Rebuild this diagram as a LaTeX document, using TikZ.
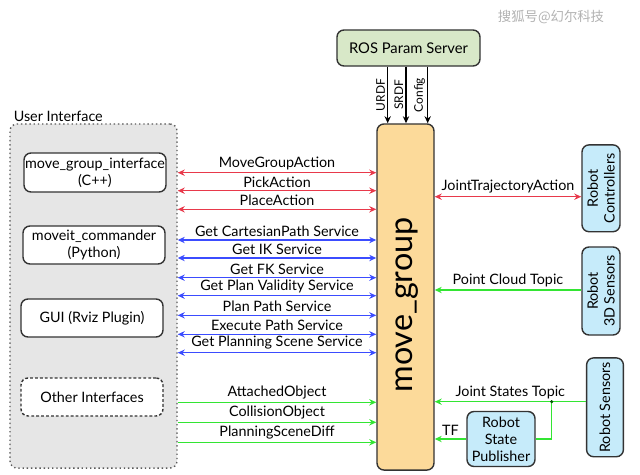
\documentclass[tikz,border=0pt]{standalone}
\usepackage{fontspec}
\setmainfont{Lato}
\newfontfamily\cjkwm{Noto Sans CJK SC}
\usepackage{tikz}
\usetikzlibrary{arrows.meta,calc,positioning}
\definecolor{actred}{HTML}{E8394B}
\definecolor{srvblue}{HTML}{3B4CFF}
\definecolor{topgreen}{HTML}{33E533}
\definecolor{uigray}{HTML}{E6E6E6}
\definecolor{mgorange}{HTML}{FCDA9A}
\definecolor{paramgreen}{HTML}{D8E8C8}
\definecolor{robotblue}{HTML}{C6EBFA}
\definecolor{edgegray}{HTML}{333333}

\begin{document}
\begin{tikzpicture}[x=0.025cm,y=-0.025cm,font=\fontsize{10.2}{12}\selectfont,
    >={Stealth[length=5pt,width=4.5pt]},
    box/.style={draw=edgegray,line width=1pt,rounded corners=5pt,align=center,inner sep=0pt},
    act/.style={actred,line width=1pt,<->},
    srv/.style={srvblue,line width=1pt,<->},
    topic/.style={topgreen,line width=1pt,->},
    cfg/.style={black,line width=0.8pt,->},
    lbl/.style={midway,above,inner sep=1.8pt,text=black}]
  \useasboundingbox (0,0) rectangle (640,475);
  % watermark
  \node[text=gray!60,font=\cjkwm\fontsize{9.5}{11}\selectfont] (wm) at (551,17) {搜狐号@幻尔科技};
  % user interface side
  \node[box,draw=gray!70!black,dotted,fill=uigray,minimum width=4.175cm,minimum height=8.6cm] (ui) at (93.5,296) {};
  \node[anchor=south west,inner sep=1pt] (uilbl) at ([xshift=2pt]ui.north west) {User Interface};
  \node[box,fill=white,minimum width=3.55cm,minimum height=0.975cm] (cpp) at (95,172.5) {move\_group\_interface\\(C++)};
  \node[box,fill=white,minimum width=3.55cm,minimum height=0.95cm] (py) at (94,245) {moveit\_commander\\(Python)};
  \node[box,fill=white,minimum width=3.55cm,minimum height=0.95cm] (gui) at (92,318) {GUI (Rviz Plugin)};
  \node[box,fill=white,dash pattern=on 2pt off 1.5pt,minimum width=3.55cm,minimum height=0.95cm] (other) at (92,397) {Other Interfaces};
  % move_group and parameter server
  \node[box,fill=mgorange,minimum width=1.425cm,minimum height=8.65cm] (mg) at (405.5,297) {};
  \node[rotate=90,font=\fontsize{23}{28}\selectfont] (mglbl) at (407,305) {move\_group};
  \node[box,fill=paramgreen,minimum width=3.575cm,minimum height=0.9cm,font=\fontsize{10.5}{13}\selectfont] (param) at (408.5,48) {ROS Param Server};
  \draw[cfg] (param.south -| 387.7,0) -- node[midway,rotate=90,above,inner sep=1.5pt,font=\fontsize{8.5}{9}\selectfont] {URDF} (mg.north -| 387.7,0);
  \draw[cfg] (param.south -| 406,0) -- node[midway,rotate=90,above,inner sep=1.5pt,font=\fontsize{8.5}{9}\selectfont] {SRDF} (mg.north -| 406,0);
  \draw[cfg] (param.south -| 427.7,0) -- node[midway,rotate=90,above,inner sep=1.5pt,font=\fontsize{8.5}{9}\selectfont] {Config} (mg.north -| 427.7,0);
  % actions
  \draw[act] (ui.east |- 0,172.7) -- node[lbl] {MoveGroupAction} (mg.west |- 0,172.7);
  \draw[act] (ui.east |- 0,190.7) -- node[lbl] {PickAction} (mg.west |- 0,190.7);
  \draw[act] (ui.east |- 0,209.3) -- node[lbl] {PlaceAction} (mg.west |- 0,209.3);
  % services
  \foreach \y/\txt in {240/Get CartesianPath Service,258/Get IK Service,277.7/Get FK Service,
      295.7/Get Plan Validity Service,315.3/Plan Path Service,334.3/Execute Path Service,
      352.7/Get Planning Scene Service}
    \draw[srv] (ui.east |- 0,\y) -- node[lbl] {\txt} (mg.west |- 0,\y);
  % topics in
  \draw[topic] (ui.east |- 0,402.3) -- node[lbl] {AttachedObject} (mg.west |- 0,402.3);
  \draw[topic] (ui.east |- 0,422.3) -- node[lbl] {CollisionObject} (mg.west |- 0,422.3);
  \draw[topic] (ui.east |- 0,442.3) -- node[lbl] {PlanningSceneDiff} (mg.west |- 0,442.3);
  % robot side
  \node[box,fill=robotblue,rotate=90,minimum width=2.17cm,minimum height=0.95cm] (ctrl) at (601,188.3) {Robot\\Controllers};
  \node[box,fill=robotblue,rotate=90,minimum width=2.2cm,minimum height=0.95cm] (sens3d) at (601,291) {Robot\\3D Sensors};
  \node[box,fill=robotblue,rotate=90,minimum width=2.47cm,minimum height=0.92cm] (sens) at (605,407.3) {Robot Sensors};
  \node[box,fill=robotblue,minimum width=1.7cm,minimum height=1.375cm] (pub) at (501,439) {Robot\\State\\Publisher};
  \draw[act] (mg.east |- 0,196.7) -- node[lbl] {JointTrajectoryAction} (ctrl.north |- 0,196.7);
  \draw[topic] (sens3d.north |- 0,290) -- node[lbl] {Point Cloud Topic} (mg.east |- 0,290);
  \draw[topic] (sens.north |- 0,401.7) -- node[lbl] {Joint States Topic} (mg.east |- 0,401.7);
  \coordinate (jct) at (551.7,401.7);
  \draw[topgreen,line width=1pt] (jct) |- (pub.east);
  \filldraw[green!35!black] (jct) circle (1.3);
  \draw[topic] (pub.west) -- node[lbl] {TF} (mg.east |- pub.west);
\end{tikzpicture}
\end{document}
